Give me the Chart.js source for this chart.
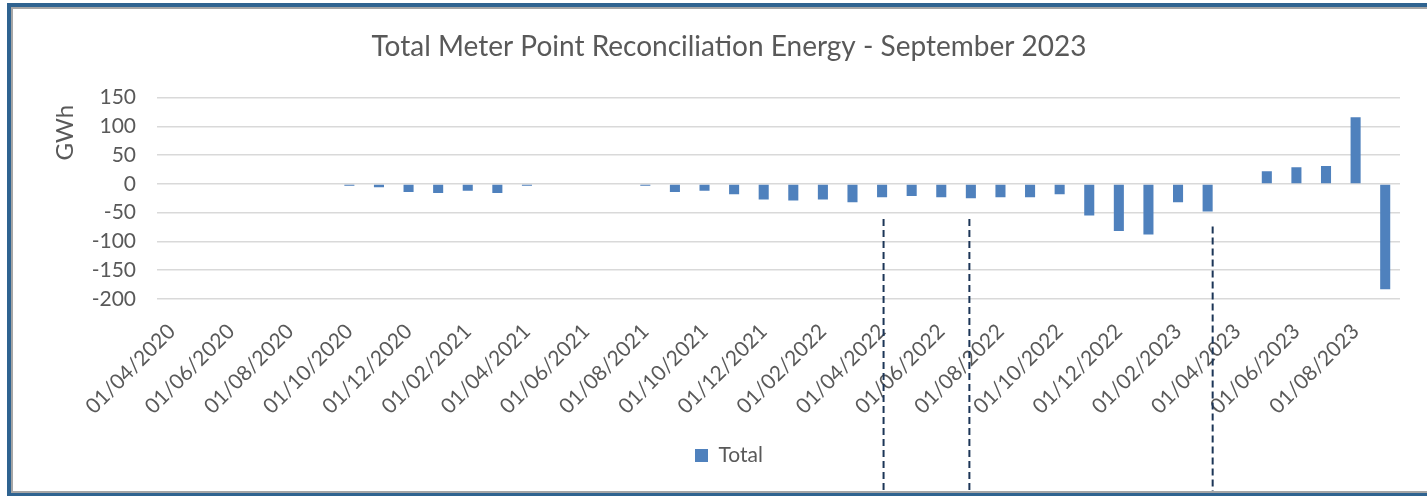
<!DOCTYPE html>
<html>
<head>
<meta charset="utf-8">
<script src="https://cdn.jsdelivr.net/npm/chart.js@4.4.0/dist/chart.umd.min.js"></script>
<style>
    html, body { margin: 0; padding: 0; background: #fff; }
    #wrap { position: relative; width: 1427px; height: 496px; overflow: hidden; }
    #frame {
        position: absolute; left: 7px; top: 3px; width: 1500px; height: 493px;
        box-sizing: border-box;
        border-top: 4px solid #2f6390; border-left: 4px solid #2f6390; border-bottom: 3px solid #2f6390;
    }
    #frame div {
        width: 100%; height: 100%; box-sizing: border-box;
        border-top: 2px solid #a6a6a6; border-left: 2px solid #a6a6a6; border-bottom: 2px solid #a6a6a6;
    }
    canvas { position: absolute; left: 0; top: 0; }
</style>
</head>
<body>
<div id="wrap">
    <div id="frame"><div></div></div>
    <canvas id="reconChart" width="1427" height="496"></canvas>
</div>
<script>
// Monthly categories (Apr 2020 - Sep 2023)
const months = [
    '01/04/2020', '01/05/2020', '01/06/2020', '01/07/2020', '01/08/2020', '01/09/2020',
    '01/10/2020', '01/11/2020', '01/12/2020', '01/01/2021', '01/02/2021', '01/03/2021',
    '01/04/2021', '01/05/2021', '01/06/2021', '01/07/2021', '01/08/2021', '01/09/2021',
    '01/10/2021', '01/11/2021', '01/12/2021', '01/01/2022', '01/02/2022', '01/03/2022',
    '01/04/2022', '01/05/2022', '01/06/2022', '01/07/2022', '01/08/2022', '01/09/2022',
    '01/10/2022', '01/11/2022', '01/12/2022', '01/01/2023', '01/02/2023', '01/03/2023',
    '01/04/2023', '01/05/2023', '01/06/2023', '01/07/2023', '01/08/2023', '01/09/2023'
];

// Total reconciliation energy, GWh
const totalGWh = [
    null, null, null, null, null, null,
    -3, -6, -14, -16, -12, -16,
    -3, null, null, null, -3, -14,
    -12, -18, -27, -29, -27, -32,
    -23, -21, -23, -25, -23, -23,
    -18, -55, -82, -88, -32, -48,
    null, 22, 29, 31, 116, -183
];

// y axis range
const yMin = -200;
const yMax = 150;
const yStep = 50;

// dashed marker lines (month, shift within month, top value)
const markerDates = ['01/04/2022', '01/07/2022', '01/03/2023'];
const markerShift = [0.05, -0.05, 0.17];
const markerTop = [-61, -61, -74];

const textColor = '#595959';
const fontFamily = 'Lato';

const overlay = {
    id: 'overlay',
    afterDraw(chart) {
        const { ctx, chartArea, scales: { x, y } } = chart;

        // Dashed vertical lines
        ctx.save();
        ctx.strokeStyle = '#1c3557';
        ctx.lineWidth = 2;
        ctx.setLineDash([7, 4]);
        markerDates.forEach((d, i) => {
            const px = x.getPixelForValue(months.indexOf(d) + markerShift[i]);
            ctx.beginPath();
            ctx.moveTo(px, y.getPixelForValue(markerTop[i]));
            ctx.lineTo(px, chart.height - 5);
            ctx.stroke();
        });
        ctx.restore();

        // Axis title
        ctx.save();
        ctx.translate(65, chartArea.top + 35);
        ctx.rotate(-Math.PI / 2);
        ctx.font = `24px ${fontFamily}`;
        ctx.fillStyle = textColor;
        ctx.textAlign = 'center';
        ctx.textBaseline = 'middle';
        ctx.fillText('GWh', 0, 0);
        ctx.restore();
    }
};

const ctx = document.getElementById('reconChart').getContext('2d');

new Chart(ctx, {
    type: 'bar',
    data: {
        labels: months,
        datasets: [{
            label: 'Total',
            data: totalGWh,
            backgroundColor: '#4f81bd',
            borderWidth: 0,
            barPercentage: 0.34,
            categoryPercentage: 1.0
        }]
    },
    options: {
        responsive: false,
        animation: false,
        layout: {
            padding: { left: 58, right: 27, top: 0, bottom: 20 }
        },
        plugins: {
            title: {
                display: true,
                text: 'Total Meter Point Reconciliation Energy - September 2023',
                color: textColor,
                font: { family: fontFamily, size: 28, weight: 'normal' },
                padding: { top: 30, bottom: 34 }
            },
            legend: {
                position: 'bottom',
                labels: {
                    boxWidth: 13,
                    boxHeight: 13,
                    color: textColor,
                    font: { family: fontFamily, size: 21 },
                    padding: 10
                }
            },
            tooltip: { enabled: false }
        },
        scales: {
            x: {
                grid: { display: false },
                border: { display: false },
                ticks: {
                    autoSkip: false,
                    minRotation: 45,
                    maxRotation: 45,
                    padding: 12,
                    color: textColor,
                    font: { family: fontFamily, size: 21 },
                    callback: (v, i) => (i % 2 === 0 ? months[i] : '')
                },
                afterFit: (scale) => { scale.height = 136; }
            },
            y: {
                min: yMin,
                max: yMax,
                ticks: {
                    stepSize: yStep,
                    padding: 21,
                    color: textColor,
                    font: { family: fontFamily, size: 21 }
                },
                grid: { color: '#d9d9d9', lineWidth: 1.5, drawTicks: false },
                border: { display: false },
                afterFit: (scale) => { scale.width = 99; }
            }
        }
    },
    plugins: [overlay]
});
</script>
</body>
</html>
